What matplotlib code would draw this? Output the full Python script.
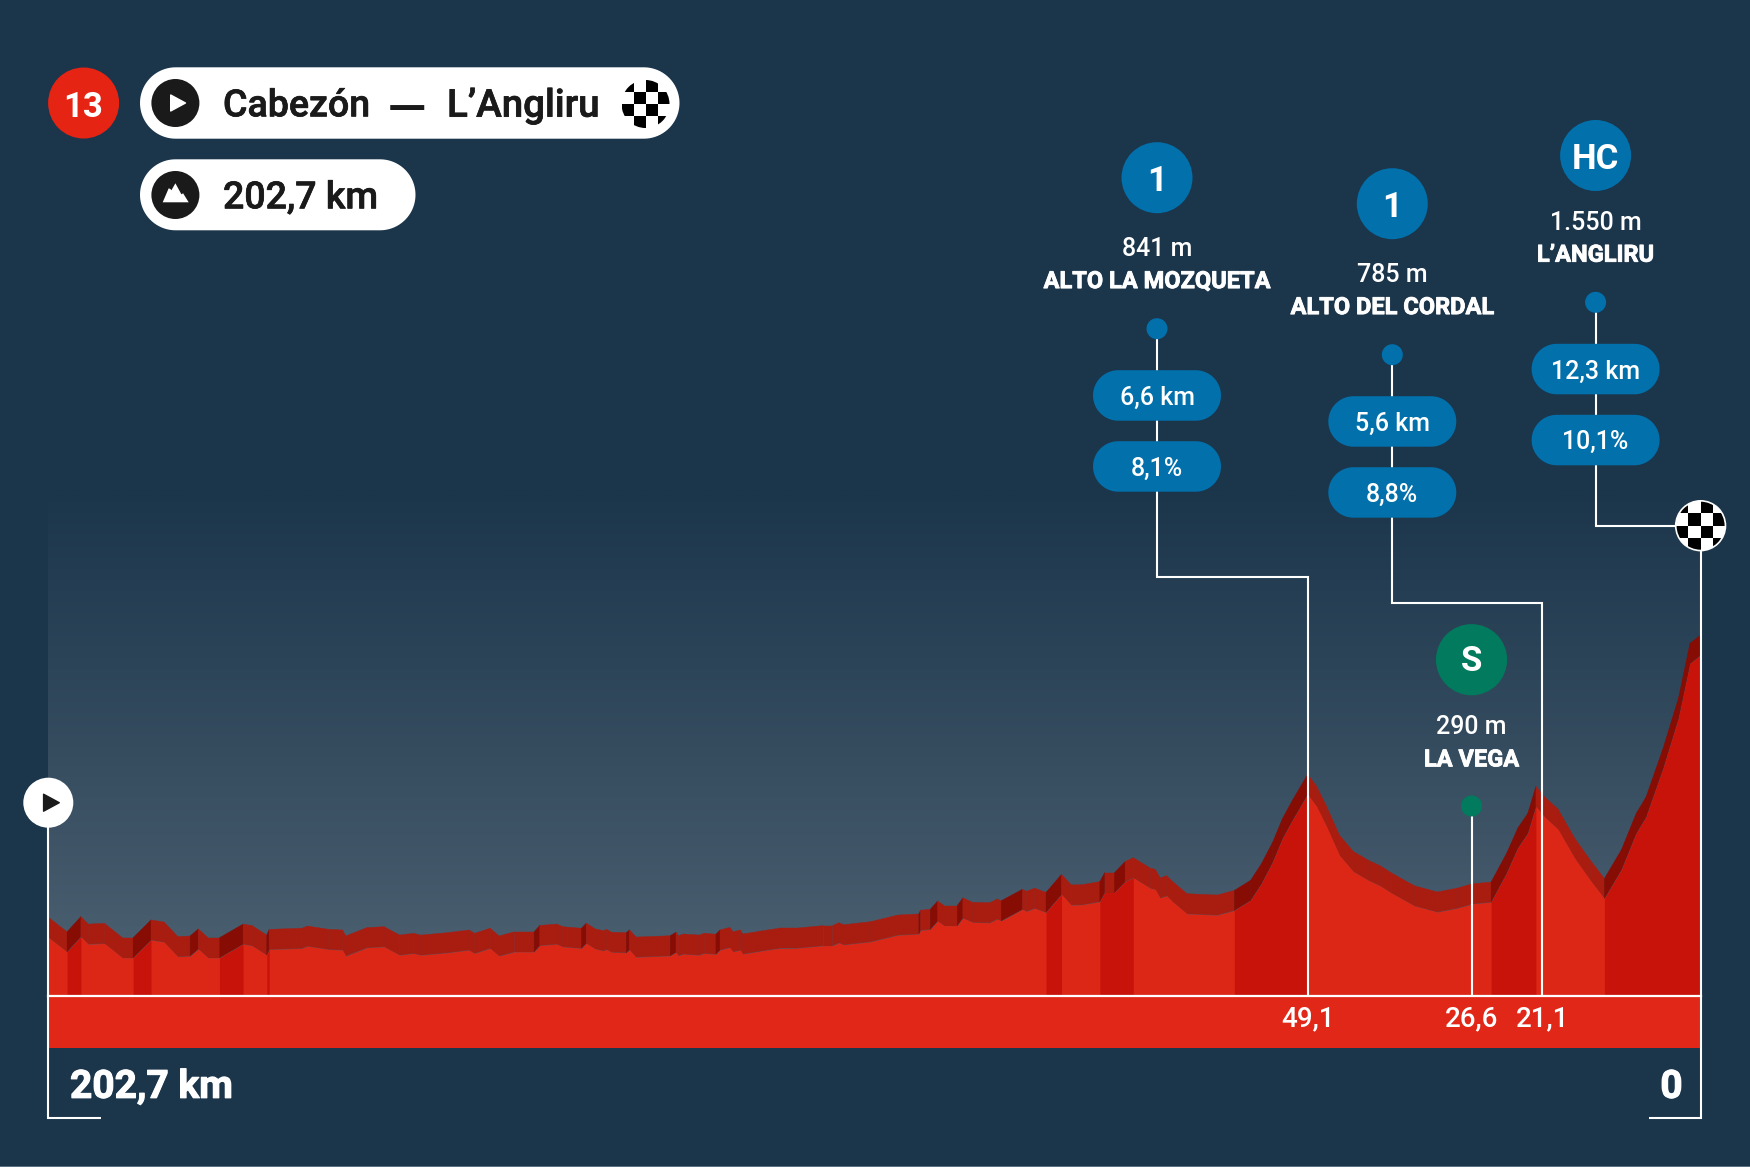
import matplotlib
matplotlib.use("Agg")
import matplotlib.pyplot as plt
import matplotlib.patheffects as pe
import numpy as np
from matplotlib.collections import PolyCollection
from matplotlib.colors import LinearSegmentedColormap
from matplotlib.patches import Circle, Polygon, Rectangle

plt.rcParams['font.family'] = ['Roboto', 'DejaVu Sans']

# stage profile, km to the finish and altitude in m
profile_km = [202.7, 200.4, 198.7, 197.8, 195.8, 193.6, 192.3, 190.1, 188.5, 186.8,
              185.3, 184.3, 183.1, 181.7, 178.8, 177.7, 175.9, 175.6, 171.6, 170.9,
              168.3, 166.6, 166.2, 163.6, 161.5, 159.6, 157.9, 157.0, 153.7, 151.1,
              150.4, 148.5, 147.4, 145.5, 143.1, 142.4, 140.3, 139.6, 137.3, 136.7,
              135.6, 134.6, 134.2, 133.6, 131.8, 131.4, 130.6, 126.4, 125.7, 125.4,
              124.8, 122.9, 122.2, 120.8, 120.3, 119.1, 118.7, 117.8, 117.5, 114.5,
              113.0, 111.1, 107.6, 106.5, 105.7, 105.1, 101.8, 98.5, 95.9, 95.7,
              94.5, 93.6, 92.8, 91.2, 90.5, 89.3, 87.2, 86.3, 85.8, 83.2,
              82.7, 81.7, 80.3, 78.4, 77.2, 75.9, 73.7, 73.1, 71.9, 70.6,
              69.6, 67.5, 66.9, 66.3, 65.5, 64.7, 63.0, 59.3, 57.2, 55.2,
              53.9, 52.5, 51.3, 50.1, 48.2, 47.1, 45.9, 44.3, 42.6, 40.7,
              39.3, 37.9, 35.1, 32.3, 29.9, 28.0, 25.7, 23.8, 22.4, 21.2,
              20.2, 19.1, 17.5, 15.4, 13.5, 11.8, 9.7, 7.9, 6.7, 4.6,
              2.7, 1.3, 0.0]
profile_m = [267, 201, 270, 236, 239, 174, 174, 255, 245, 179,
             182, 214, 174, 174, 236, 229, 186, 212, 217, 227,
             212, 209, 182, 220, 224, 186, 194, 186, 197, 209,
             194, 217, 182, 201, 201, 230, 236, 224, 217, 240,
             214, 206, 212, 199, 197, 210, 177, 183, 199, 183,
             191, 186, 194, 190, 209, 221, 201, 209, 191, 209,
             217, 217, 229, 229, 242, 233, 247, 277, 282, 299,
             303, 341, 320, 320, 355, 335, 333, 350, 342, 394,
             385, 399, 380, 462, 414, 415, 429, 470, 470, 520,
             538, 490, 485, 446, 456, 427, 374, 368, 389, 435,
             509, 608, 715, 797, 917, 862, 772, 640, 566, 525,
             501, 468, 410, 382, 399, 419, 427, 558, 674, 739,
             862, 813, 759, 624, 525, 443, 575, 739, 813, 1035,
             1265, 1512, 1550]

# stretches painted darker on the profile (from km, to km)
climb_zones = [(200.4, 198.7), (192.3, 190.1), (181.7, 178.8), (175.9, 175.6),
               (80.3, 78.4), (73.7, 69.6), (57.2, 48.2), (25.7, 20.2), (11.8, 0.0)]

# climbs
climb_cat = ['1', '1', 'HC']
climb_alt = ['841 m', '785 m', '1.550 m']
climb_name = ['ALTO LA MOZQUETA', 'ALTO DEL CORDAL', "L’ANGLIRU"]
climb_len = ['6,6 km', '5,6 km', '12,3 km']
climb_grade = ['8,1%', '8,8%', '10,1%']
climb_foot_km = [48.2, 19.4, 0.0]
climb_label = ['49,1', '', '']
sprint_km = 28.1
sprint_label = '26,6'
second_label = '21,1'

stage_no = '13'
stage_from = 'Cabezón'
stage_to = 'L’Angliru'
stage_dist = '202,7 km'
finish_text = '0'

BG = '#1b354b'
RED = '#dc2717'
RED_DARK = '#c8130a'
STRIP = '#e02718'
BLUE = '#0170ab'
GREEN = '#017a5e'
INK = '#1a1a1a'

X0 = 1700.6   # px of km 0
PX_KM = (X0 - 48.3) / 202.7
PX_M = 0.22
Y0 = 996.0    # px of 0 m
DEPTH = 20 / PX_M
STRIP_M = -52 / PX_M

fig = plt.figure(figsize=(1750 / 100, 1167 / 100), dpi=100, facecolor=BG)

# profile axes: km and metres, fills the whole figure
ax = fig.add_axes([0, 0, 1, 1])
ax.axis('off')
km = np.array(profile_km)
elev = np.array(profile_m, dtype=float)

grad = LinearSegmentedColormap.from_list('sky', [(0, BG), (0.86, '#475c6d'), (1, '#475c6d')])
ax.imshow(np.linspace(0, 1, 256).reshape(-1, 1), cmap=grad, aspect='auto', zorder=0,
          extent=(202.7, 0, 0, (Y0 - 490) / PX_M))
ax.set_xlim(X0 / PX_KM, (X0 - 1750) / PX_KM)
ax.set_ylim((Y0 - 1167) / PX_M, Y0 / PX_M)

# 3d edge behind the profile
verts, cols = [], []
for i in range(len(km) - 1):
    verts.append([(km[i], elev[i]), (km[i + 1], elev[i + 1]),
                  (km[i + 1], elev[i + 1] + DEPTH), (km[i], elev[i] + DEPTH)])
    slope = (elev[i + 1] - elev[i]) / (km[i] - km[i + 1])
    cols.append('#860c04' if slope > 20 else '#a91d11')
ax.add_collection(PolyCollection(verts, facecolors=cols, edgecolors=cols, linewidths=0.3, zorder=2))

ax.fill_between(km, 0, elev, color=RED, lw=0, zorder=3)
for a, b in climb_zones:
    ax.fill_between(km, 0, elev, where=(km <= a) & (km >= b), color=RED_DARK, lw=0, zorder=4)
ax.fill_between([202.7, 0], STRIP_M, 0, color=STRIP, lw=0, zorder=4)


def km_px(k):
    return ax.transData.transform((k, 0))[0]


# layout axes in picture pixels, for badges and leader lines
ui = fig.add_axes([0, 0, 1, 1])
ui.set_xlim(0, 1750)
ui.set_ylim(1167, 0)
ui.axis('off')
ui.patch.set_alpha(0)


def label(x, yc, s, size, color='white', weight='medium', ha='center', z=10, thick=0):
    # yc is the middle of the capitals
    base = yc + 0.711 * size * 100 / 72 / 2
    t = ui.text(x, base, s, fontsize=size, color=color, fontweight=weight, ha=ha, va='baseline', zorder=z)
    if thick:
        t.set_path_effects([pe.withStroke(linewidth=thick, foreground=color)])


def pill(x0, x1, y0, y1, color, z=6):
    # full round ends
    r = (y1 - y0) / 2
    yc = (y0 + y1) / 2
    a = np.linspace(-np.pi / 2, np.pi / 2, 40)
    xs = np.r_[x1 - r + r * np.cos(a), x0 + r - r * np.cos(a[::-1])]
    ys = np.r_[yc + r * np.sin(a), yc + r * np.sin(a[::-1])]
    ui.add_patch(Polygon(np.c_[xs, ys], closed=True, fc=color, ec='none', zorder=z))


def line(xs, ys, z=5):
    ui.plot(xs, ys, color='white', lw=1.5, solid_joinstyle='miter', solid_capstyle='butt', zorder=z)


def dot(x, y, r, color, z=7):
    ui.add_patch(Circle((x, y), r, fc=color, ec='none', zorder=z))


def checker(x, y, r, cell):
    ui.add_patch(Circle((x, y), r, fc='white', ec='none', zorder=8))
    for row in range(4):
        for col in range(4):
            if (row + col) % 2 == 0:
                sq = Rectangle((x + (col - 2) * cell, y + (row - 2) * cell), cell, cell, fc='black', ec='none', zorder=9)
                ui.add_patch(sq)
                sq.set_clip_path(Circle((x, y), r, transform=ui.transData))


def play(x, y, size, color, z=9):
    ui.add_patch(Polygon([(x - size * 0.85, y - size), (x - size * 0.85, y + size), (x + size, y)],
                         closed=True, fc=color, ec=color, lw=1, joinstyle='round', zorder=z))


# header
dot(83.6, 103, 35.5, '#e62413')
label(83.6, 104.2, stage_no, 25, weight='bold')
pill(140, 679.5, 67.3, 138.7, 'white')
dot(175.4, 103, 24, INK)
play(177.5, 103, 8, 'white')
label(223, 103, stage_from, 27, color=INK, ha='left', thick=0.5)
label(407, 108, '—', 37, color=INK)
label(447, 103, stage_to, 27.7, color=INK, ha='left', thick=0.5)
checker(645.5, 104, 24, 12)
pill(140, 415.5, 159.3, 230.3, 'white')
dot(175.4, 195, 24, INK)
ui.add_patch(Polygon([(162.7, 202.3), (168.7, 188.3), (170.4, 189), (171.4, 190.3), (175.4, 183.3),
                      (181.4, 194.3), (183.1, 193.3), (188.7, 202.3)], closed=True, fc='white', ec='none', zorder=9))
label(223, 195, stage_dist, 27, color=INK, ha='left', thick=0.5)

# climbs, badge positions in px
badge_x = [1157, 1392.3, 1595.6]
badge_y = [177.7, 203.7, 155.5]
shift = [0, 0, -4.2]    # the HC column sits a bit tighter
for i in range(3):
    x, y = badge_x[i], badge_y[i]
    s = shift[i]
    dot(x, y, 35.5, BLUE)
    label(x, y + 1.2, climb_cat[i], 25, weight='bold')
    label(x, y + 69.5 + s, climb_alt[i], 18)
    label(x, y + 102 + s, climb_name[i], 17, weight='bold', thick=0.6)
    dot(x, y + 151 + s, 10.5, BLUE)
    pill(x - 64, x + 64, y + 192.5 + s, y + 243 + s, BLUE)
    pill(x - 64, x + 64, y + 263.5 + s, y + 314 + s, BLUE)
    label(x, y + 218.5 + s, climb_len[i], 18)
    label(x, y + 289 + s, climb_grade[i], 18)
    foot = km_px(climb_foot_km[i])
    if i < 2:
        turn = y + 399
        line([x, x, foot, foot], [y + 151, turn, turn, Y0])
    else:
        turn = y + 370.2
        line([x, x, foot], [y + 151 + s, turn, turn])

# sprint
sx = km_px(sprint_km)
dot(sx, 659.7, 35.6, GREEN)
label(sx, 658.7, 'S', 25, weight='bold')
label(sx, 724.8, '290 m', 18)
label(sx, 758, 'LA VEGA', 17, weight='bold', thick=0.6)
dot(sx, 806, 10.5, GREEN)
line([sx, sx], [806, Y0])

# frame, start and finish
left = km_px(202.7)
right = km_px(0)
ui.plot([left, right], [Y0, Y0], color='white', lw=1.6, zorder=6)
line([left, left, 101.4], [802.7, 1118, 1118])
line([right, right, 1648.7], [525.7, 1118, 1118])
dot(left, 802.7, 25, 'white', z=8)
play(left + 2.5, 802.7, 8.5, INK)
dot(right, 525.7, 25.7, 'white', z=8)
checker(right, 525.7, 24, 12.3)

label(km_px(48.2), 1016, climb_label[0], 20)
label(sx, 1016, sprint_label, 20)
label(km_px(19.4), 1016, second_label, 20)
label(70, 1084, stage_dist, 28, weight='bold', ha='left', thick=0.8)
label(1671.5, 1084, finish_text, 28, weight='bold', thick=0.8)

ui.add_patch(Rectangle((0, 1166), 1750, 1, fc='#5c7282', ec='none', zorder=1))

fig.savefig('out.png', dpi=100)
